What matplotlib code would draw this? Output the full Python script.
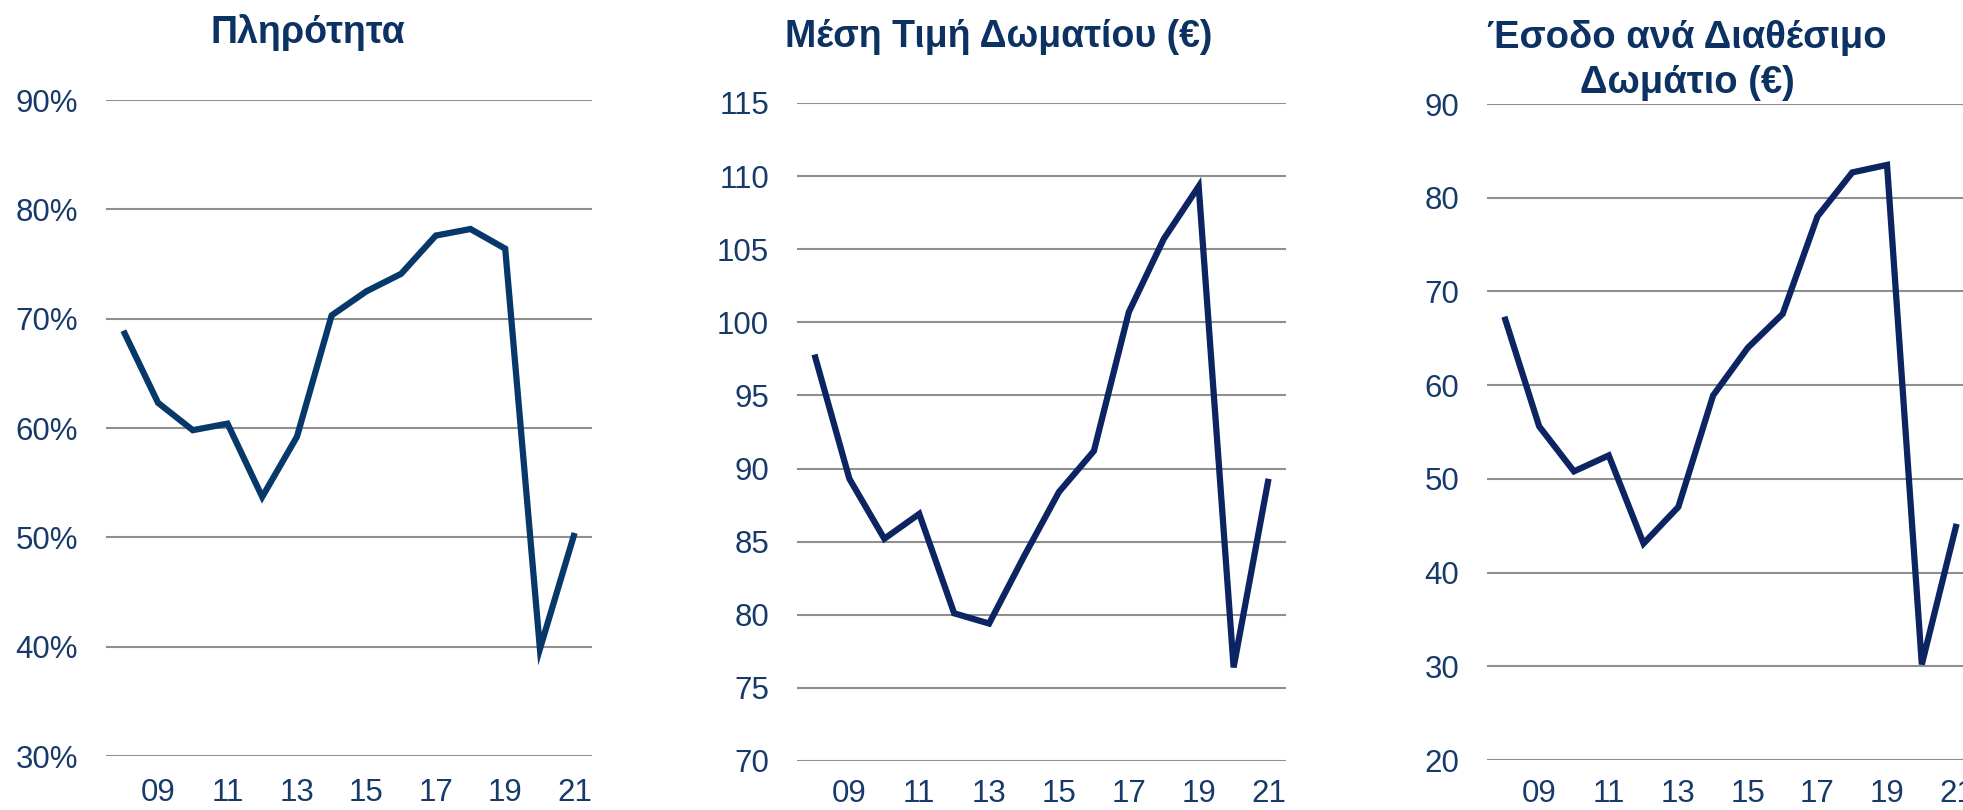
import matplotlib
matplotlib.use("Agg")
import matplotlib.pyplot as plt
import numpy as np

plt.rcParams['font.family'] = ['Liberation Sans', 'DejaVu Sans']

# data (years 2008-2021)
years = list(range(2008, 2022))
occupancy = [68.9, 62.3, 59.8, 60.4, 53.7, 59.2, 70.3, 72.5, 74.1, 77.6, 78.2, 76.4, 39.8, 50.4]
avg_rate = [97.8, 89.3, 85.2, 86.9, 80.1, 79.4, 84.0, 88.4, 91.2, 100.7, 105.7, 109.3, 76.4, 89.3]
revpar = [67.3, 55.6, 50.8, 52.5, 43.1, 47.0, 58.9, 64.0, 67.6, 78.0, 82.7, 83.5, 30.2, 45.2]

titles = ["Πληρότητα", "Μέση Τιμή Δωματίου (€)", "Έσοδο ανά Διαθέσιμο\nΔωμάτιο (€)"]
ylims = [(30, 90), (70, 115), (20, 90)]
ysteps = [10, 5, 10]

W, H = 1963, 810
fig = plt.figure(figsize=(W / 100, H / 100), dpi=100)

# axes boxes in pixels: left, top, right, bottom
boxes = [(106, 100, 592, 756), (797, 103, 1286, 761), (1487, 104, 1974, 760)]
line_colors = ['#06386A', '#0D2462', '#0D2462']
title_x = [308, 999, 1687]
title_base = [43, 47, 48]
title_size = [27, 27, 27.5]
xpads = [16, 13, 13.5]

tick_color = '#173A6A'
title_color = '#0B3262'

series = [occupancy, avg_rate, revpar]
x = np.arange(len(years))

for i, vals in enumerate(series):
    l, t, r, b = boxes[i]
    ax = fig.add_axes([l / W, 1 - b / H, (r - l) / W, (b - t) / H])
    ax.plot(x, vals, color=line_colors[i], lw=4.5, solid_joinstyle='miter',
            solid_capstyle='butt', clip_on=False)
    ax.set_xlim(-0.5, len(years) - 0.5)
    ax.set_ylim(*ylims[i])
    yt = np.arange(ylims[i][0], ylims[i][1] + 0.1, ysteps[i])
    ax.set_yticks(yt)
    if i == 0:
        ax.set_yticklabels([f"{v:.0f}%" for v in yt])
    else:
        ax.set_yticklabels([f"{v:.0f}" for v in yt])
    ax.set_xticks(x[1::2])
    ax.set_xticklabels([f"{y % 100:02d}" for y in years[1::2]])
    ax.grid(axis='y', color='#8F8F8F', lw=1.5)
    ax.set_axisbelow(True)
    for s in ax.spines.values():
        s.set_visible(False)
    ax.tick_params(axis='both', length=0, labelsize=22.5, colors=tick_color)
    ax.tick_params(axis='y', pad=20)
    ax.tick_params(axis='x', pad=xpads[i])

    # title, possibly two lines
    lines = titles[i].split("\n")
    for k, ln in enumerate(lines):
        fig.text(title_x[i] / W, 1 - (title_base[i] + 45 * k) / H, ln,
                 ha='center', va='baseline', fontsize=title_size[i],
                 fontweight='bold', color=title_color)

fig.savefig("out.png", dpi=100)
